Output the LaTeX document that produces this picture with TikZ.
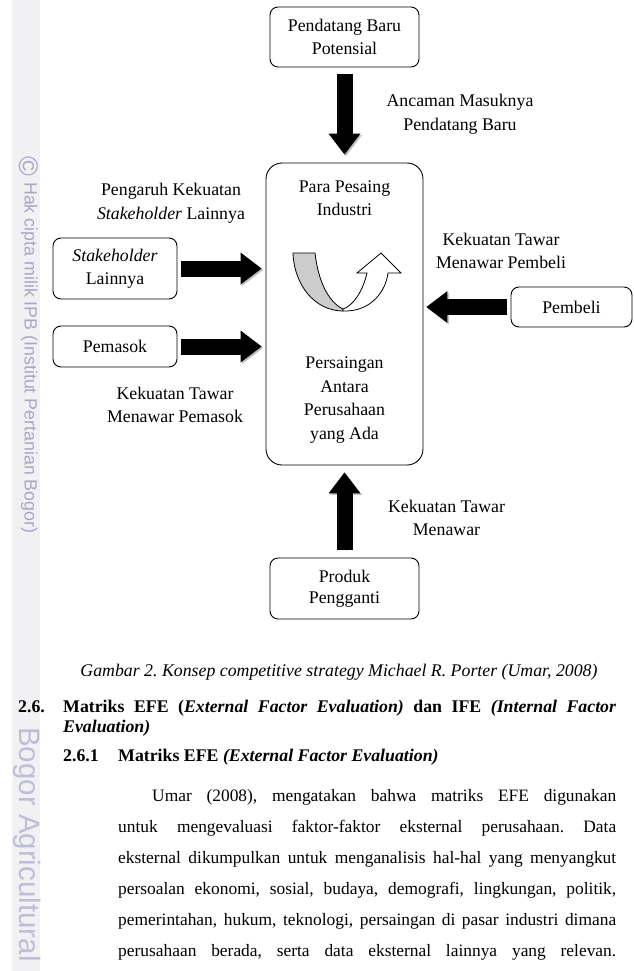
\documentclass[tikz,border=0pt]{standalone}
\usepackage{fontspec}
\setmainfont{Liberation Serif}
\newfontfamily\wmfont{Liberation Sans}
\usetikzlibrary{arrows.meta}

\definecolor{wmgray}{RGB}{168,168,198}
\definecolor{wmlight}{RGB}{190,190,214}
\definecolor{stripgray}{RGB}{241,241,243}

\begin{document}
\frenchspacing
\begin{tikzpicture}[
        x=1pt, y=-1pt,
        box/.style={draw, line width=0.9pt, rounded corners=8pt, align=center, inner sep=0pt,
            font=\fontsize{17.8}{23.5}\selectfont},
        lbl/.style={align=center, inner sep=0pt, font=\fontsize{17.8}{23.5}\selectfont},
        bigarrow/.style={line width=16pt, -{Triangle[length=21pt,width=32pt,line width=0pt]},
            preaction={draw=gray!50, transform canvas={shift={(1.5pt,-1.5pt)}}}},
        txt/.style={anchor=base west, inner sep=0pt, font=\fontsize{17.8}{20.5}\selectfont},
        wm/.style={inner sep=0pt, rotate=-90, anchor=base west}
    ]
    \useasboundingbox (0,0) rectangle (633,971);
    \clip (0,0) rectangle (633,971);
    \fill[white] (0,0) rectangle (633,971);
    \fill[stripgray] (12,0) rectangle (40,971);

    \node[wm, text=wmgray, anchor=center, font=\wmfont\fontsize{27}{27}\selectfont] (wmcopy) at (29,166) {©};
    \node[wm, text=wmgray, font=\wmfont\fontsize{17.8}{17.8}\selectfont] (wmhak) at (24.5,182) {Hak cipta milik IPB (Institut Pertanian Bogor)};
    \node[wm, text=wmlight, font=\wmfont\fontsize{29.5}{29.5}\selectfont] (wmbogor) at (19.5,727) {Bogor Agricultural University};

    \node[box, minimum width=149pt, minimum height=60pt] (pendatang) at (344.5,37) {Pendatang Baru\\Potensial};
    \node[box, rounded corners=16pt, minimum width=157pt, minimum height=302pt] (pesaing) at (344.5,314) {};
    \node[lbl] (pesaingtop) at (344.5,198) {Para Pesaing\\Industri};
    \node[lbl] (persaingan) at (344.5,400) {Persaingan\\Antara\\Perusahaan\\yang Ada};
    \node[box, minimum width=124pt, minimum height=61pt] (stakeholder) at (115,268.5) {\textit{Stakeholder}\\Lainnya};
    \node[box, minimum width=124pt, minimum height=41pt] (pemasok) at (115,346.5) {Pemasok};
    \node[box, minimum width=121pt, minimum height=40pt] (pembeli) at (571.5,307) {Pembeli};
    \node[box, minimum width=149pt, minimum height=61pt, font=\fontsize{17.8}{20.5}\selectfont] (produk) at (344.5,588.5) {Produk\\Pengganti};

    \node[lbl] (ancaman) at (460,114) {Ancaman Masuknya\\Pendatang Baru};
    \node[lbl] (pengaruh) at (171,203) {Pengaruh Kekuatan\\\textit{Stakeholder} Lainnya};
    \node[lbl] (tawarpemasok) at (175,405) {Kekuatan Tawar\\Menawar Pemasok};
    \node[lbl] (tawarpembeli) at (501,251) {Kekuatan Tawar\\Menawar Pembeli};
    \node[lbl] (tawarpengganti) at (446.5,518) {Kekuatan Tawar\\Menawar};

    \draw[bigarrow, shorten <=7pt, shorten >=8pt] (pendatang.south) -- (pesaing.north);
    \draw[bigarrow, shorten <=4pt, shorten >=4pt] (stakeholder.east) -- (stakeholder.east -| pesaing.west);
    \draw[bigarrow, shorten <=4pt, shorten >=4pt] (pemasok.east) -- (pemasok.east -| pesaing.west);
    \draw[bigarrow, shorten <=4pt, shorten >=3pt] (pembeli.west) -- (pembeli.west -| pesaing.east);
    \draw[bigarrow, shorten <=8pt, shorten >=7pt] (produk.north) -- (pesaing.south);

    \draw[line width=0.8pt, fill=gray!40] (293,253) -- (315,253)
        .. controls (318,280) and (328,302) .. (343,309) -- (343,311)
        .. controls (315,311) and (294,285) .. (293,253) -- cycle;
    \draw[line width=0.8pt, fill=white] (343,311) .. controls (372,312) and (386,290) .. (388,273)
        -- (401,273) -- (381,253) -- (357,273) -- (367,273)
        .. controls (362,294) and (352,306) .. (343,309) -- cycle;

    \node[inner sep=0pt, font=\fontsize{17.8}{20}\selectfont\itshape] (caption) at (339,672)
        {Gambar 2. Konsep competitive strategy Michael R. Porter (Umar, 2008)};

    \node[txt, font=\bfseries\fontsize{17.8}{20.5}\selectfont] (secnum) at (18,712) {2.6.};
    \node[txt, text width=553pt, align=justify, font=\bfseries\fontsize{17.8}{20.5}\selectfont] (sectitle) at (63,712)
        {\hyphenpenalty=10000 Matriks EFE (\textit{External Factor Evaluation)} dan IFE \textit{(Internal Factor}\linebreak \textit{Evaluation)}};
    \node[txt, font=\bfseries\fontsize{17.8}{20.5}\selectfont] (subnum) at (63,761) {2.6.1};
    \node[txt, font=\bfseries\fontsize{17.8}{20.5}\selectfont] (subtitle) at (118,761)
        {Matriks EFE \textit{(External Factor Evaluation)}};

    \node[txt, text width=498pt, align=justify, font=\fontsize{17.4}{31}\selectfont] (para) at (118,801)
        {\hyphenpenalty=10000 \parfillskip=0pt \hspace*{34pt}Umar (2008), mengatakan bahwa matriks EFE digunakan\linebreak
        untuk mengevaluasi faktor-faktor eksternal perusahaan. Data\linebreak
        eksternal dikumpulkan untuk menganalisis hal-hal yang menyangkut\linebreak
        persoalan ekonomi, sosial, budaya, demografi, lingkungan, politik,\linebreak
        pemerintahan, hukum, teknologi, persaingan di pasar industri dimana\linebreak
        perusahaan berada, serta data eksternal lainnya yang relevan.\par};
\end{tikzpicture}
\end{document}
